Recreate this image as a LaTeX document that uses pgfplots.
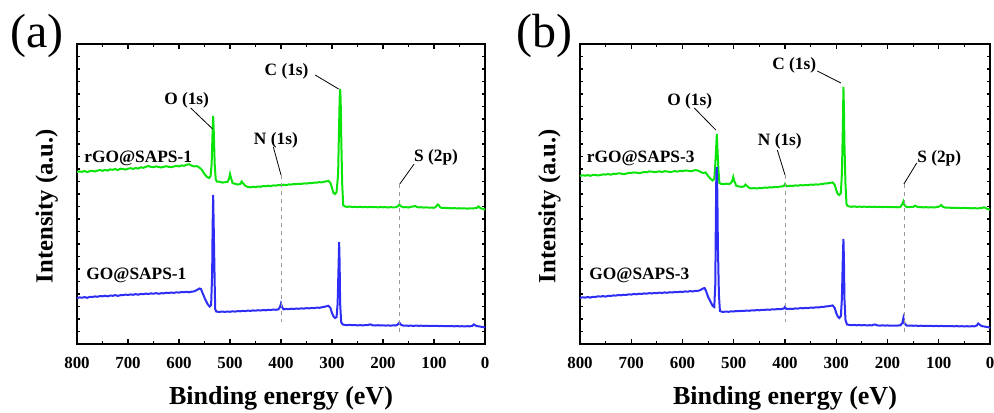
\documentclass[border=0pt]{standalone}
\usepackage{fontspec}
\setmainfont{Liberation Serif}
\usepackage{pgfplots}
\pgfplotsset{compat=1.18}
\definecolor{cgreen}{RGB}{10,228,10}
\definecolor{cblue}{RGB}{45,45,245}
\newcommand{\U}{0.75pt}
\newcommand{\tickfont}{\fontsize{12.7}{15}\selectfont\bfseries}
\newcommand{\lblfont}{\fontsize{13}{15}\selectfont\bfseries}
\pgfplotsset{xps/.style={
  scale only axis, height=225pt,
  xmin=0, xmax=800, x dir=reverse, ymin=0, ymax=300,
  axis line style={line width=1.3pt}, every tick/.style={black, line width=0.9pt},
  xtick={0,100,...,800}, minor x tick num=1,
  xticklabels={0,100,200,300,400,500,600,700,800},
  major tick length=4pt, minor tick length=2.2pt,
  ytick={0,300}, yticklabels={}, minor y tick num=23,
  tick align=inside,
  xticklabel style={font=\tickfont, inner sep=0pt, anchor=north, yshift=-10pt},
  xlabel={Binding energy (eV)},
  xlabel style={at={(axis description cs:0.5,0)}, anchor=base, yshift=-45pt, inner sep=0pt, font=\fontsize{19.5}{22}\selectfont\bfseries},
  clip=false,
}}
\begin{document}
\begin{tikzpicture}
\useasboundingbox (0,0) rectangle (994*\U,412*\U);
% ---------------- panel (a)
\begin{axis}[xps, width=306pt, at={(77*\U,68*\U)}, anchor=south west]
\addplot[cgreen, line width=1.5pt] coordinates {
(800,172) (795,172.6) (790,172.2) (785,173) (780,171.9) (775,172.8) (770,173.2) (765,172.5) (760,173.4) (755,173.9) (750,173.2) (745,174.1) (740,173.4) (735,174.6) (730,174.2) (725,175) (720,173.9) (715,175.3) (710,175.1) (705,174.4) (700,175.3) (695,175.8) (690,175.1) (685,176) (680,175.4) (675,176.7) (670,176.2) (665,177.2) (660,178) (655,177.1) (650,176.8) (645,177.6) (640,177.1) (635,176.5) (630,177.2) (625,177.8) (620,177.1) (615,176.9) (610,177.5) (605,178.1) (600,177.6) (595,178.6) (590,178.2) (585,179.3) (580,179.8) (575,178.3) (570,177.6) (565,177.9) (560,176.5) (555,174) (550,170) (545,167) (541,166) (538,168) (536,180) (534,215) (533,228) (532,215) (530,180) (528,165) (526,162.5) (520,162.2) (515,161.4) (510,161.8) (505,162) (502,165) (500,170) (498,166) (495,161) (490,160.2) (485,159.5) (480,159.9) (477,162.5) (475,161) (470,158.2) (465,157) (460,156.7) (455,157.3) (450,156.9) (445,157.5) (440,157.2) (435,158) (430,157.7) (425,158.3) (420,157.9) (415,158.6) (410,158.4) (405,159) (400,158.7) (395,159.3) (390,158.9) (385,159.6) (380,159.4) (375,160.1) (370,159.8) (365,160.2) (360,160) (355,160.7) (350,160.4) (345,161) (340,160.8) (335,161.4) (330,161.3) (325,161.9) (320,161.6) (315,162.3) (310,162.8) (307,163.2) (303,161) (300,156) (297,151) (294,150) (291,152) (288,170) (286,220) (285,245) (284,255) (283,245) (282,210) (280,160) (278,139) (275,137.6) (270,137.1) (265,137.5) (260,136.9) (255,137.2) (250,136.9) (245,137.3) (240,136.8) (235,137.1) (230,136.7) (225,137.2) (220,136.8) (215,137) (210,136.6) (205,137.1) (200,136.7) (195,136.9) (190,136.5) (185,136.9) (180,136.6) (175,136.8) (171,137.6) (168,139.5) (165,137.8) (160,136.7) (155,136.9) (150,136.5) (145,137.2) (140,137.6) (137,138) (134,137.2) (130,136.6) (125,136.8) (120,136.4) (115,136.7) (110,136.3) (105,136.5) (100,136.2) (96,137.3) (93,139.5) (91,139) (88,136.8) (85,136.1) (80,136.2) (75,135.9) (70,136) (65,135.7) (60,135.9) (55,135.6) (50,135.8) (45,135.5) (40,135.7) (35,135.4) (30,135.6) (25,135.5) (20,135.8) (16,136.1) (13,137.6) (11,136.8) (8,135.6) (5,135.3) (2,134.8) (0,134.3)
};
\addplot[cblue, line width=1.5pt] coordinates {
(800,46) (795,46.6) (790,46.3) (785,46.9) (780,46.2) (775,47.1) (770,47) (765,47.6) (760,47.2) (755,47.9) (750,47.7) (745,48.3) (740,47.6) (735,48.5) (730,48.2) (725,48.9) (720,48.1) (715,48.8) (710,48.9) (705,49.4) (700,49) (695,49.6) (690,49.2) (685,49.9) (680,49.3) (675,50.1) (670,49.8) (665,50.4) (660,50) (655,50.6) (650,50.3) (645,50.9) (640,50.2) (635,50.8) (630,50.7) (625,51.3) (620,51) (615,51.5) (610,51.1) (605,51.7) (600,51.4) (595,52) (590,51.8) (585,52.2) (580,51.7) (575,52.4) (570,52.6) (565,54) (560,55.5) (557,55) (553,50) (548,44) (544,40) (540,37.5) (537,39) (535,70) (534,120) (533,149) (532,120) (530,60) (529,35) (527,32.5) (522,32.1) (515,32.4) (510,32.1) (505,32.5) (500,32.2) (495,32.7) (490,32.4) (485,32.9) (480,32.7) (475,33.2) (470,32.9) (465,33.4) (460,33.1) (455,33.6) (450,33.3) (445,33.8) (440,33.5) (435,34) (430,33.7) (425,34.2) (420,34) (415,34.5) (410,34.2) (405,34.6) (402,37) (400,40.5) (398,37) (395,34.6) (390,35.1) (385,34.8) (380,35.3) (375,35) (370,35.5) (365,35.2) (360,35.7) (355,35.4) (350,35.9) (345,35.6) (340,36.1) (335,35.9) (330,36.4) (325,36.2) (320,36.7) (315,37.2) (312,37.6) (307,38.2) (303,36) (300,31) (297,27.5) (294,26) (291,27) (289,40) (287,80) (286,102) (285,80) (284,40) (282,22) (279,19.5) (275,19.1) (270,18.8) (265,19.2) (260,18.8) (255,19) (250,18.6) (245,18.9) (240,18.6) (235,18.9) (230,18.8) (226,19.6) (223,19.4) (220,18.7) (215,18.5) (210,18.8) (205,18.5) (200,18.7) (195,18.4) (190,18.6) (185,18.4) (180,18.6) (175,18.5) (171,19.5) (168,21.5) (165,19.3) (160,18.3) (155,18.5) (150,18.2) (145,18.4) (140,18.1) (135,18.4) (130,18.2) (125,18.3) (120,18.1) (115,18.3) (110,18) (105,18.2) (100,18) (95,18.2) (90,17.9) (85,18.1) (80,17.8) (75,18) (70,17.8) (65,17.9) (60,17.7) (55,17.9) (50,17.7) (45,17.8) (40,17.6) (35,17.8) (30,17.7) (25,18.1) (22,19.6) (20,19) (17,18) (14,17.8) (10,17.5) (5,17) (2,16.8) (0,16.4)
};
\draw[gray!80, dashed, line width=0.6pt] (axis cs:400,169) -- (axis cs:400,22);
\draw[gray!80, dashed, line width=0.6pt] (axis cs:167,160) -- (axis cs:167,11);
\draw[line width=0.6pt] (axis cs:577,236) -- (axis cs:534,215);
\draw[line width=0.6pt] (axis cs:333,269) -- (axis cs:287,255);
\draw[line width=0.6pt] (axis cs:415,197) -- (axis cs:400,169);
\draw[line width=0.6pt] (axis cs:139,180) -- (axis cs:167,160);
\node[anchor=base, inner sep=0pt, font=\lblfont] at (axis cs:585,240) {O (1s)};
\node[anchor=base, inner sep=0pt, font=\lblfont] at (axis cs:389,269) {C (1s)};
\node[anchor=base, inner sep=0pt, font=\lblfont] at (axis cs:410,200) {N (1s)};
\node[anchor=base, inner sep=0pt, font=\lblfont] at (axis cs:96,182.3) {S (2p)};
\node[anchor=base west, inner sep=0pt, font=\lblfont] at (axis cs:786,181.7) {rGO@SAPS-1};
\node[anchor=base west, inner sep=0pt, font=\lblfont] at (axis cs:782,65) {GO@SAPS-1};
\end{axis}
% ---------------- panel (b)
\begin{axis}[xps, width=307.5pt, at={(580*\U,68*\U)}, anchor=south west]
\addplot[cgreen, line width=1.5pt] coordinates {
(800,168) (795,168.7) (790,168.4) (785,168.9) (780,168.2) (775,169.1) (770,169) (765,168.6) (760,168.9) (755,169.7) (750,169.4) (745,170) (740,169.3) (735,170.2) (730,170) (725,170.7) (720,170.4) (715,169.9) (710,170.3) (705,171.1) (700,171) (695,171.6) (690,171.3) (685,170.9) (680,171.3) (675,172) (670,171.7) (665,172.6) (660,172.4) (655,171.9) (650,172.2) (645,172.7) (640,172) (635,172.8) (630,172.5) (625,172) (620,172.3) (615,172.9) (610,172.4) (605,173.2) (600,172.9) (595,173.5) (590,173.3) (585,172.8) (580,173.2) (575,173.9) (570,173.5) (565,172.1) (560,171) (555,171.6) (550,168) (545,165) (541,163.5) (538,165) (536,180) (534,200) (533,210) (532,198) (530,175) (528,161) (525,160.2) (520,159.8) (515,160.3) (510,160) (506,160.6) (503,163) (501,167) (499,163) (495,158.2) (490,157.5) (485,157.1) (480,157.6) (477,159.5) (474,158) (470,156.2) (465,155.6) (460,155.9) (455,155.5) (450,156.1) (445,155.8) (440,156.5) (435,156.2) (430,156.8) (425,156.5) (420,157.1) (415,156.8) (410,157.4) (405,157.6) (402,158.2) (400,160) (398,158) (395,157.9) (390,158.3) (385,158) (380,158.6) (375,158.3) (370,158.9) (365,158.6) (360,159.1) (355,158.8) (350,159.4) (345,159.2) (340,159.6) (335,159.4) (330,159.9) (325,160.2) (320,160.6) (315,160.8) (312,161.1) (307,161.6) (303,159) (300,154) (297,150) (294,149) (291,151) (289,170) (287,220) (286,257) (285,235) (284,200) (282,160) (280,140) (278,138) (275,137.6) (270,137.2) (265,137.6) (260,137.1) (255,137.4) (250,137.1) (245,137.4) (240,137) (235,137.3) (230,137) (225,137.3) (220,136.9) (215,137.2) (210,136.9) (205,137.2) (200,136.8) (195,137.1) (190,136.8) (185,137) (180,136.7) (175,137) (171,140) (169,142.5) (167,139) (163,137) (158,136.8) (154,137.1) (150,137) (146,138.4) (142,137.1) (138,136.8) (134,137) (130,136.6) (125,136.9) (120,136.5) (115,136.8) (110,136.5) (105,136.8) (101,137.2) (98,137.8) (95,139) (92,137.2) (88,136.5) (85,136.3) (80,136.4) (75,136.1) (70,136.3) (65,136) (60,136.1) (55,135.9) (50,136.1) (45,135.8) (40,135.9) (35,135.7) (30,135.9) (25,135.6) (20,135.8) (15,136.1) (12,136.7) (9,136.2) (6,135.3) (3,134.8) (0,134.2)
};
\addplot[cblue, line width=1.5pt] coordinates {
(800,46) (795,46.7) (790,46.4) (785,47) (780,46.4) (775,47.2) (770,47) (765,47.7) (760,47.4) (755,47.9) (750,47.4) (745,48.2) (740,48) (735,48.6) (730,48.4) (725,49) (720,48.7) (715,49.3) (710,49) (705,49.7) (700,49.4) (695,50) (690,49.7) (685,50.3) (680,50) (675,50.6) (670,50.3) (665,50.9) (660,50.5) (655,51.1) (650,50.8) (645,51.4) (640,51) (635,51.6) (630,51.2) (625,51.8) (620,51.5) (615,52) (610,51.8) (605,52.3) (600,52) (595,52.6) (590,52.3) (585,52.9) (580,52.5) (575,53.2) (570,53.1) (565,54) (560,55.5) (557,56) (554,53) (550,47) (545,42) (541,38) (538,37) (536,60) (535,120) (534,170) (533,177) (532,150) (531,100) (529,50) (527,33) (522,32.1) (515,32.4) (510,32.2) (505,32.7) (500,32.5) (495,33) (490,32.8) (485,33.2) (480,33) (475,33.5) (470,33.2) (465,33.7) (460,33.5) (455,34) (450,33.7) (445,34.2) (440,34) (435,34.5) (430,34.2) (425,34.7) (420,34.5) (415,35) (410,34.8) (405,35.2) (402,35.5) (400,37.2) (398,35.3) (395,35) (390,35.3) (385,35.1) (380,35.6) (375,35.4) (370,35.9) (365,35.7) (360,36.1) (355,35.9) (350,36.4) (345,36.2) (340,36.7) (335,36.5) (330,37) (325,37.1) (320,37.6) (315,37.8) (312,38.1) (307,38.6) (303,36) (300,31) (297,27.5) (294,26) (291,28) (289,45) (287,90) (286,105) (285,85) (284,45) (282,24) (279,19.5) (275,19.1) (270,18.8) (265,19.1) (260,18.7) (255,19) (250,18.7) (245,18.9) (240,18.6) (235,18.8) (230,18.7) (226,19.5) (223,19.3) (220,18.6) (215,18.4) (210,18.7) (205,18.4) (200,18.6) (195,18.3) (190,18.5) (185,18.3) (180,18.5) (175,18.6) (171,21) (169,26) (167,21) (163,18.5) (158,18.3) (154,18.5) (150,18.2) (145,18.4) (140,18.1) (135,18.3) (130,18.1) (125,18.2) (120,18) (115,18.2) (110,17.9) (105,18.1) (100,17.9) (95,18.1) (90,17.8) (85,18) (80,17.8) (75,17.9) (70,17.7) (65,17.9) (60,17.7) (55,17.8) (50,17.6) (45,17.8) (40,17.6) (35,17.8) (30,17.7) (26,18.5) (23,20.5) (20,19.2) (17,18.2) (14,17.7) (10,17.4) (5,17) (2,16.6) (0,16)
};
\draw[gray!80, dashed, line width=0.6pt] (axis cs:400,169) -- (axis cs:400,22);
\draw[gray!80, dashed, line width=0.6pt] (axis cs:168,160) -- (axis cs:168,11);
\draw[line width=0.6pt] (axis cs:577,236) -- (axis cs:535,214);
\draw[line width=0.6pt] (axis cs:337,273) -- (axis cs:291,261);
\draw[line width=0.6pt] (axis cs:415,194) -- (axis cs:400,169);
\draw[line width=0.6pt] (axis cs:143,181) -- (axis cs:168,160);
\node[anchor=base, inner sep=0pt, font=\lblfont] at (axis cs:586,239) {O (1s)};
\node[anchor=base, inner sep=0pt, font=\lblfont] at (axis cs:382,274.7) {C (1s)};
\node[anchor=base, inner sep=0pt, font=\lblfont] at (axis cs:410,199) {N (1s)};
\node[anchor=base, inner sep=0pt, font=\lblfont] at (axis cs:99,181.3) {S (2p)};
\node[anchor=base west, inner sep=0pt, font=\lblfont] at (axis cs:787,181.3) {rGO@SAPS-3};
\node[anchor=base west, inner sep=0pt, font=\lblfont] at (axis cs:782,64.7) {GO@SAPS-3};
\end{axis}
% ---------------- outer texts
\node[rotate=90, font=\fontsize{18.5}{21}\selectfont\bfseries] at (46.7*\U,206*\U) {Intensity (a.u.)};
\node[rotate=90, font=\fontsize{18.5}{21}\selectfont\bfseries] at (549.5*\U,206*\U) {Intensity (a.u.)};
\node[anchor=base west, inner sep=0pt, font=\fontsize{36}{40}\selectfont] at (10*\U,365*\U) {(a)};
\node[anchor=base west, inner sep=0pt, font=\fontsize{36}{40}\selectfont] at (516*\U,365*\U) {(b)};
\end{tikzpicture}
\end{document}
